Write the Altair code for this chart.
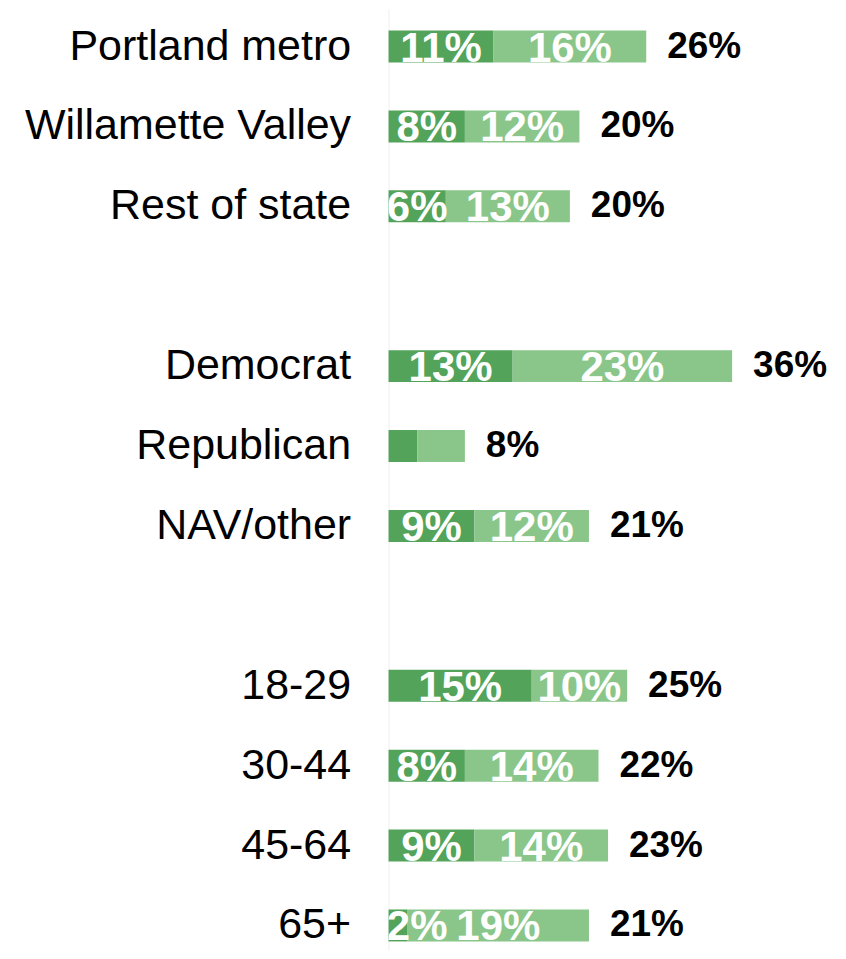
import altair as alt
import pandas as pd

categories = ["Portland metro", "Willamette Valley", "Rest of state",
              "Democrat", "Republican", "NAV/other",
              "18-29", "30-44", "45-64", "65+"]
dark_values = [11, 8, 6, 13, 3, 9, 15, 8, 9, 2]
light_values = [16, 12, 13, 23, 5, 12, 10, 14, 14, 19]
dark_labels = ["11%", "8%", "6%", "13%", "", "9%", "15%", "8%", "9%", "2%"]
light_labels = ["16%", "12%", "13%", "23%", "", "12%", "10%", "14%", "14%", "19%"]
total_labels = ["26%", "20%", "20%", "36%", "8%", "21%", "25%", "22%", "23%", "21%"]

# row order including two blank spacer rows between groups
domain = (categories[0:3] + ["_s1"] + categories[3:6] + ["_s2"] + categories[6:10])

rows = []
for c, dv, lv, dl, ll in zip(categories, dark_values, light_values, dark_labels, light_labels):
    rows.append({"category": c, "seg": "A", "value": dv, "label": dl})
    rows.append({"category": c, "seg": "B", "value": lv, "label": ll})
df = pd.DataFrame(rows)

tot = pd.DataFrame({
    "category": categories,
    "end": [d + l for d, l in zip(dark_values, light_values)],
    "total": total_labels,
})

FONT = "Liberation Sans, Arial, sans-serif"
DARK = "#53A35A"
LIGHT = "#8AC68A"

xscale = alt.Scale(domain=[0, 45], nice=False, zero=True)
yscale = alt.Scale(domain=domain, paddingInner=0.6, paddingOuter=0.19375, align=0.7097)

yaxis = alt.Axis(
    title=None, ticks=False, grid=False, domain=True,
    domainColor="#efefef", domainWidth=1,
    labelFont=FONT, labelFontSize=43, labelColor="#000000",
    labelPadding=38, labelLimit=500,
    labelExpr="indexof(datum.value, '_s') == 0 ? '' : datum.value",
)

base = alt.Chart(df).transform_stack(
    stack="value", groupby=["category"], as_=["x0", "x1"],
    sort=[alt.SortField("seg", order="ascending")],
)

bars = base.mark_bar().encode(
    x=alt.X("x0:Q", scale=xscale, axis=None),
    x2="x1:Q",
    y=alt.Y("category:N", scale=yscale, axis=yaxis, sort=domain),
    color=alt.Color("seg:N", scale=alt.Scale(domain=["A", "B"], range=[DARK, LIGHT]), legend=None),
)

inner = base.transform_calculate(mid="max((datum.x0 + datum.x1) / 2, 3)").mark_text(
    clip=True, color="white", font=FONT, fontSize=42, fontWeight="bold",
    align="center", baseline="middle", dy=2,
).encode(
    x=alt.X("mid:Q", scale=xscale, axis=None),
    y=alt.Y("category:N", scale=yscale, sort=domain),
    text="label:N",
)

totals = alt.Chart(tot).mark_text(
    color="black", font=FONT, fontSize=37, fontWeight="bold",
    align="left", baseline="middle", dx=21,
).encode(
    x=alt.X("end:Q", scale=xscale, axis=None),
    y=alt.Y("category:N", scale=yscale, sort=domain),
    text="total:N",
)

chart = alt.layer(bars, inner, totals).properties(
    width=430, height=943,
    autosize=alt.AutoSizeParams(type="none"),
    padding={"left": 381, "top": 0, "right": 20, "bottom": 0},
).configure_view(strokeWidth=0)

chart.save("out.html", embed_options={"renderer": "svg", "actions": False})
